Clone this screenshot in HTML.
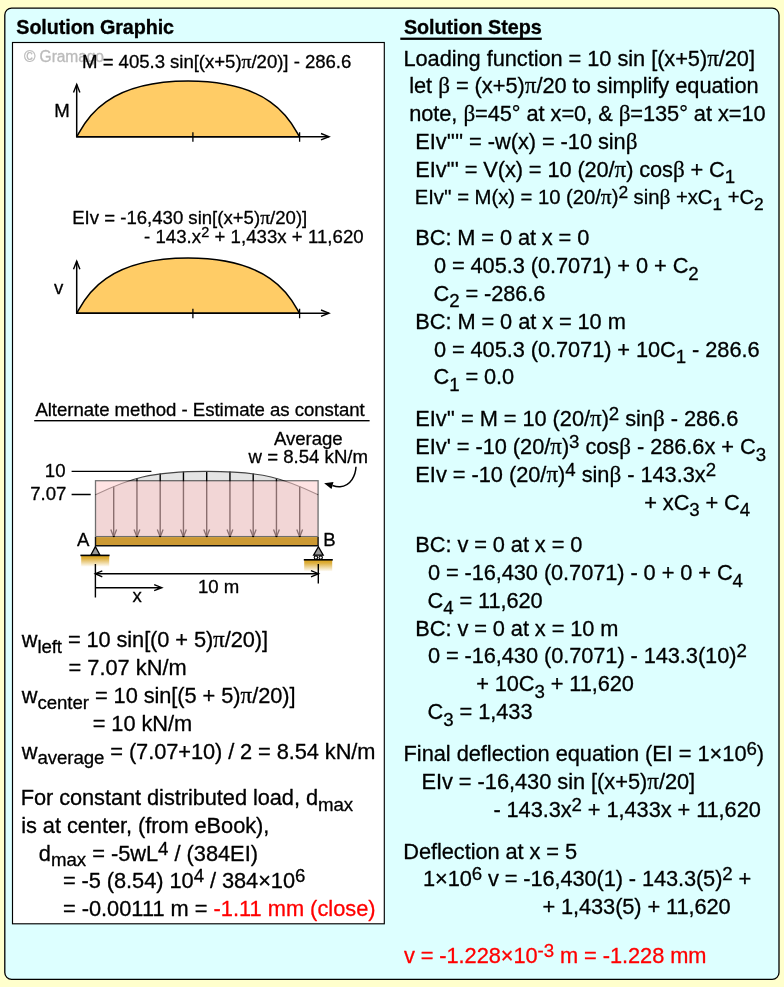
<!DOCTYPE html>
<html><head><meta charset="utf-8"><title>Solution</title>
<style>
html,body{margin:0;padding:0;background:#FFFFCC;}
svg{display:block;font-family:"Liberation Sans",Arial,sans-serif;}
text{white-space:pre;stroke-width:0.3px;stroke-linejoin:round;}
</style></head><body>
<svg width="784" height="987" viewBox="0 0 784 987">
<rect width="784" height="987" fill="#FFFFCC"/>
<rect x="4.8" y="8.15" width="774.2" height="971.2" rx="6.8" ry="6.8" fill="#DDFFFF" stroke="#000" stroke-width="1.3"/>
<rect x="12.5" y="42.5" width="371.8" height="881.3" fill="#fff" stroke="#000" stroke-width="1.15"/>
<rect x="400.3" y="37.6" width="141.5" height="2.3" fill="#000"/>
<rect x="34.2" y="420" width="335.4" height="1.4" fill="#000"/>
<path d="M76.7,136.7 C83.20,126.30 99.60,81.1 188.10,81.1 C276.60,81.1 293.00,126.30 299.5,136.7 Z" fill="#FFCC66" stroke="#000" stroke-width="1.5" stroke-linejoin="round"/><path d="M76.7,84.4 V136.7 H329" fill="none" stroke="#000" stroke-width="1.5"/><path d="M73.5,92.4 L76.7,84.4 L79.9,92.4" fill="none" stroke="#000" stroke-width="1.4"/><path d="M321,133.5 L329,136.7 L321,139.89999999999998" fill="none" stroke="#000" stroke-width="1.4"/><path d="M192.9,132.2 V141.7 M299.6,132.2 V141.7" stroke="#000" stroke-width="1.3"/>
<path d="M76.7,313.2 C83.20,302.87 99.60,258 188.10,258 C276.60,258 293.00,302.87 299.5,313.2 Z" fill="#FFCC66" stroke="#000" stroke-width="1.5" stroke-linejoin="round"/><path d="M76.7,261.2 V313.2 H329" fill="none" stroke="#000" stroke-width="1.5"/><path d="M73.5,269.2 L76.7,261.2 L79.9,269.2" fill="none" stroke="#000" stroke-width="1.4"/><path d="M321,310.0 L329,313.2 L321,316.4" fill="none" stroke="#000" stroke-width="1.4"/><path d="M192.9,308.7 V318.2 M299.6,308.7 V318.2" stroke="#000" stroke-width="1.3"/>
<path d="M71.6,471.4 H151.4 M71.6,494.5 H90.7" stroke="#000" stroke-width="1.4"/>
<path d="M95.5,494.7 C129.70,478.60 149.60,471.4 206.80,471.4 C264.00,471.4 283.90,478.60 318.1,494.7 L318.1,536.6 L95.5,536.6 Z" fill="#E4E4E4" stroke="none"/>
<path d="M113.70,486.22 V537.4" stroke="#000" stroke-width="1.4"/>
<path d="M110.80,529.4 L113.70,536.9 L116.60,529.4" fill="none" stroke="#000" stroke-width="1.3"/>
<path d="M136.95,478.11 V537.4" stroke="#000" stroke-width="1.4"/>
<path d="M134.05,529.4 L136.95,536.9 L139.85,529.4" fill="none" stroke="#000" stroke-width="1.3"/>
<path d="M160.20,473.55 V537.4" stroke="#000" stroke-width="1.4"/>
<path d="M157.30,529.4 L160.20,536.9 L163.10,529.4" fill="none" stroke="#000" stroke-width="1.3"/>
<path d="M183.45,471.59 V537.4" stroke="#000" stroke-width="1.4"/>
<path d="M180.55,529.4 L183.45,536.9 L186.35,529.4" fill="none" stroke="#000" stroke-width="1.3"/>
<path d="M206.70,471.10 V537.4" stroke="#000" stroke-width="1.4"/>
<path d="M203.80,529.4 L206.70,536.9 L209.60,529.4" fill="none" stroke="#000" stroke-width="1.3"/>
<path d="M229.95,471.58 V537.4" stroke="#000" stroke-width="1.4"/>
<path d="M227.05,529.4 L229.95,536.9 L232.85,529.4" fill="none" stroke="#000" stroke-width="1.3"/>
<path d="M253.20,473.53 V537.4" stroke="#000" stroke-width="1.4"/>
<path d="M250.30,529.4 L253.20,536.9 L256.10,529.4" fill="none" stroke="#000" stroke-width="1.3"/>
<path d="M276.45,478.06 V537.4" stroke="#000" stroke-width="1.4"/>
<path d="M273.55,529.4 L276.45,536.9 L279.35,529.4" fill="none" stroke="#000" stroke-width="1.3"/>
<path d="M299.70,486.13 V537.4" stroke="#000" stroke-width="1.4"/>
<path d="M296.80,529.4 L299.70,536.9 L302.60,529.4" fill="none" stroke="#000" stroke-width="1.3"/>
<path d="M95.5,494.7 C129.70,478.60 149.60,471.4 206.80,471.4 C264.00,471.4 283.90,478.60 318.1,494.7" fill="none" stroke="#444" stroke-width="1.1"/>
<rect x="95.5" y="480.7" width="222.60000000000002" height="55.900000000000034" fill="#FFCCCC" stroke="#000" stroke-width="1.3" opacity="0.54"/>
<rect x="95.5" y="537.1" width="222.60000000000002" height="8.7" fill="#CC9933"/>
<path d="M95.5,536.9 V545.8 H318.1 V536.9" fill="none" stroke="#111" stroke-width="1.4"/>
<defs><linearGradient id="g" x1="0" y1="0" x2="0" y2="1"><stop offset="0" stop-color="#D9A21B"/><stop offset="0.25" stop-color="#DDAE3A"/><stop offset="1" stop-color="#fff"/></linearGradient></defs>
<rect x="81.2" y="555.5" width="28" height="11.3" fill="url(#g)"/>
<path d="M95.4,546.6 L91,554.8 H99.8 Z" fill="#999" stroke="#000" stroke-width="1.3" stroke-linejoin="miter"/>
<path d="M80.4,555.4 H109.6" stroke="#000" stroke-width="1.6"/>
<rect x="304.2" y="560" width="28" height="11.6" fill="url(#g)"/>
<path d="M318.4,546.8 L313.6,555.2 H323.2 Z" fill="#999" stroke="#000" stroke-width="1.3"/>
<circle cx="315.9" cy="557.6" r="1.7" fill="#fff" stroke="#000" stroke-width="1.1"/><circle cx="320.7" cy="557.6" r="1.7" fill="#fff" stroke="#000" stroke-width="1.1"/>
<path d="M303.8,559.8 H332.8" stroke="#000" stroke-width="1.6"/>
<path d="M95.4,564 V597.6 M318.3,564 V583.6" stroke="#000" stroke-width="1.4"/>
<path d="M95.4,573.7 H318.3" stroke="#000" stroke-width="1.4"/>
<path d="M102.3,570.8 L95.2,573.7 L102.3,576.8 M311,570.6 L318.6,573.7 L311,576.8" fill="none" stroke="#000" stroke-width="1.3"/>
<path d="M95.4,587.7 H161.6 M154.2,584.7 L161.8,587.7 L154.2,590.7" fill="none" stroke="#000" stroke-width="1.4"/>
<path d="M356,466.7 C355.6,475 351,486 340,486.7 C337,486.9 334.5,486.2 332.5,485.5" fill="none" stroke="#000" stroke-width="1.5"/>
<path d="M324.1,483.2 L333.5,481.9 L331.5,488.9 Z" fill="#000"/>
<text x="16.3" y="33.6" font-size="19.75" font-weight="bold" stroke="#000" letter-spacing="-0.086">Solution Graphic</text>
<text x="403.9" y="33.6" font-size="19.75" font-weight="bold" stroke="#000" letter-spacing="-0.038">Solution Steps</text>
<text x="403.46" y="65.7" font-size="21.8" stroke="#000" letter-spacing="-0.052">Loading function = 10 sin [(x+5)<tspan font-family="'Liberation Serif','DejaVu Serif',serif" font-size="1.06em">π</tspan>/20]</text>
<text x="409.2" y="93.42" font-size="21.8" stroke="#000" letter-spacing="-0.031">let <tspan font-family="'Liberation Serif','DejaVu Serif',serif" font-size="1.06em">β</tspan> = (x+5)<tspan font-family="'Liberation Serif','DejaVu Serif',serif" font-size="1.06em">π</tspan>/20 to simplify equation</text>
<text x="409.2" y="121.24" font-size="21.8" stroke="#000" letter-spacing="-0.06">note, <tspan font-family="'Liberation Serif','DejaVu Serif',serif" font-size="1.06em">β</tspan>=45° at x=0, &amp; <tspan font-family="'Liberation Serif','DejaVu Serif',serif" font-size="1.06em">β</tspan>=135° at x=10</text>
<text x="415.36" y="148.86" font-size="21.8" stroke="#000" letter-spacing="-0.055">EIv'''' = -w(x) = -10 sin<tspan font-family="'Liberation Serif','DejaVu Serif',serif" font-size="1.06em">β</tspan></text>
<text x="415.36" y="176.69" font-size="21.8" stroke="#000" letter-spacing="-0.098">EIv''' = V(x) = 10 (20/<tspan font-family="'Liberation Serif','DejaVu Serif',serif" font-size="1.06em">π</tspan>) cos<tspan font-family="'Liberation Serif','DejaVu Serif',serif" font-size="1.06em">β</tspan> + C<tspan dy="6.54" font-size="18.66">1</tspan></text>
<text x="414.7" y="203.5" font-size="20.3" stroke="#000" letter-spacing="-0.037">EIv'' = M(x) = 10 (20/<tspan font-family="'Liberation Serif','DejaVu Serif',serif" font-size="1.06em">π</tspan>)<tspan dy="-5.48" font-size="17.38">2</tspan><tspan dy="5.48"> sin<tspan font-family="'Liberation Serif','DejaVu Serif',serif" font-size="1.06em">β</tspan> +xC</tspan><tspan dy="6.09" font-size="17.38">1</tspan><tspan dy="-6.09"> +C</tspan><tspan dy="6.09" font-size="17.38">2</tspan></text>
<text x="415.36" y="245.34" font-size="21.8" stroke="#000" letter-spacing="-0.1">BC: M = 0 at x = 0</text>
<text x="433.88" y="273.06" font-size="21.8" stroke="#000" letter-spacing="-0.072">0 = 405.3 (0.7071) + 0 + C<tspan dy="6.54" font-size="18.66">2</tspan></text>
<text x="433.5" y="300.88" font-size="21.8" stroke="#000" letter-spacing="-0.1">C<tspan dy="6.54" font-size="18.66">2</tspan><tspan dy="-6.54"> = -286.6</tspan></text>
<text x="415.36" y="328.7" font-size="21.8" stroke="#000" letter-spacing="-0.078">BC: M = 0 at x = 10 m</text>
<text x="433.88" y="356.53" font-size="21.8" stroke="#000" letter-spacing="-0.069">0 = 405.3 (0.7071) + 10C<tspan dy="6.54" font-size="18.66">1</tspan><tspan dy="-6.54"> - 286.6</tspan></text>
<text x="433.5" y="384.25" font-size="21.8" stroke="#000" letter-spacing="-0.1">C<tspan dy="6.54" font-size="18.66">1</tspan><tspan dy="-6.54"> = 0.0</tspan></text>
<text x="415.36" y="426.38" font-size="21.8" stroke="#000" letter-spacing="-0.046">EIv'' = M = 10 (20/<tspan font-family="'Liberation Serif','DejaVu Serif',serif" font-size="1.06em">π</tspan>)<tspan dy="-5.89" font-size="18.66">2</tspan><tspan dy="5.89"> sin<tspan font-family="'Liberation Serif','DejaVu Serif',serif" font-size="1.06em">β</tspan> - 286.6</tspan></text>
<text x="415.36" y="454.2" font-size="21.8" stroke="#000" letter-spacing="-0.049">EIv' = -10 (20/<tspan font-family="'Liberation Serif','DejaVu Serif',serif" font-size="1.06em">π</tspan>)<tspan dy="-5.89" font-size="18.66">3</tspan><tspan dy="5.89"> cos<tspan font-family="'Liberation Serif','DejaVu Serif',serif" font-size="1.06em">β</tspan> - 286.6x + C</tspan><tspan dy="6.54" font-size="18.66">3</tspan></text>
<text x="415.36" y="481.92" font-size="21.8" stroke="#000" letter-spacing="-0.031">EIv = -10 (20/<tspan font-family="'Liberation Serif','DejaVu Serif',serif" font-size="1.06em">π</tspan>)<tspan dy="-5.89" font-size="18.66">4</tspan><tspan dy="5.89"> sin<tspan font-family="'Liberation Serif','DejaVu Serif',serif" font-size="1.06em">β</tspan> - 143.3x</tspan><tspan dy="-5.89" font-size="18.66">2</tspan></text>
<text x="644.28" y="509.75" font-size="21.8" stroke="#000" letter-spacing="-0.1">+ xC<tspan dy="6.54" font-size="18.66">3</tspan><tspan dy="-6.54"> + C</tspan><tspan dy="6.54" font-size="18.66">4</tspan></text>
<text x="415.36" y="552.18" font-size="21.8" stroke="#000" letter-spacing="-0.08">BC: v = 0 at x = 0</text>
<text x="427.88" y="580.0" font-size="21.8" stroke="#000" letter-spacing="-0.077">0 = -16,430 (0.7071) - 0 + 0 + C<tspan dy="6.54" font-size="18.66">4</tspan></text>
<text x="427.5" y="607.82" font-size="21.8" stroke="#000" letter-spacing="-0.095">C<tspan dy="6.54" font-size="18.66">4</tspan><tspan dy="-6.54"> = 11,620</tspan></text>
<text x="415.36" y="635.64" font-size="21.8" stroke="#000" letter-spacing="-0.081">BC: v = 0 at x = 10 m</text>
<text x="427.88" y="663.36" font-size="21.8" stroke="#000" letter-spacing="-0.072">0 = -16,430 (0.7071) - 143.3(10)<tspan dy="-5.89" font-size="18.66">2</tspan></text>
<text x="476.18" y="691.09" font-size="21.8" stroke="#000" letter-spacing="-0.1">+ 10C<tspan dy="6.54" font-size="18.66">3</tspan><tspan dy="-6.54"> + 11,620</tspan></text>
<text x="427.5" y="719.21" font-size="21.8" stroke="#000" letter-spacing="-0.056">C<tspan dy="6.54" font-size="18.66">3</tspan><tspan dy="-6.54"> = 1,433</tspan></text>
<text x="403.56" y="761.14" font-size="21.8" stroke="#000" letter-spacing="-0.034">Final deflection equation (EI = 1×10<tspan dy="-5.89" font-size="18.66">6</tspan><tspan dy="5.89">)</tspan></text>
<text x="421.46" y="788.76" font-size="21.8" stroke="#000" letter-spacing="-0.033">EIv = -16,430 sin [(x+5)<tspan font-family="'Liberation Serif','DejaVu Serif',serif" font-size="1.06em">π</tspan>/20]</text>
<text x="493.38" y="817.08" font-size="21.8" stroke="#000" letter-spacing="-0.072">- 143.3x<tspan dy="-5.89" font-size="18.66">2</tspan><tspan dy="5.89"> + 1,433x + 11,620</tspan></text>
<text x="403.36" y="858.62" font-size="21.8" stroke="#000" letter-spacing="-0.075">Deflection at x = 5</text>
<text x="423.0" y="886.24" font-size="21.8" stroke="#000" letter-spacing="-0.1">1×10<tspan dy="-5.89" font-size="18.66">6</tspan><tspan dy="5.89"> v = -16,430(1) - 143.3(5)</tspan><tspan dy="-5.89" font-size="18.66">2</tspan><tspan dy="5.89"> +</tspan></text>
<text x="542.48" y="914.36" font-size="21.8" stroke="#000" letter-spacing="-0.095">+ 1,433(5) + 11,620</text>
<text x="403.9" y="962.9" font-size="21.8" fill="#FF0000" stroke="#FF0000" letter-spacing="-0.065">v = -1.228×10<tspan dy="-5.89" font-size="18.66">-3</tspan><tspan dy="5.89"> m = -1.228 mm</tspan></text>
<text x="21.75" y="647.1" font-size="21.8" stroke="#000" letter-spacing="-0.089">w<tspan dy="5.7" font-size="18.66">left</tspan><tspan dy="-5.7"> = 10 sin[(0 + 5)<tspan font-family="'Liberation Serif','DejaVu Serif',serif" font-size="1.06em">π</tspan>/20)]</tspan></text>
<text x="68.48" y="674.9" font-size="21.8" stroke="#000" letter-spacing="0.002">= 7.07 kN/m</text>
<text x="21.75" y="702.8" font-size="21.8" stroke="#000" letter-spacing="-0.062">w<tspan dy="5.7" font-size="18.66">center</tspan><tspan dy="-5.7"> = 10 sin[(5 + 5)<tspan font-family="'Liberation Serif','DejaVu Serif',serif" font-size="1.06em">π</tspan>/20)]</tspan></text>
<text x="92.68" y="730.6" font-size="21.8" stroke="#000" letter-spacing="-0.048">= 10 kN/m</text>
<text x="21.75" y="758.5" font-size="21.8" stroke="#000" letter-spacing="-0.076">w<tspan dy="5.7" font-size="18.66">average</tspan><tspan dy="-5.7"> = (7.07+10) / 2 = 8.54 kN/m</tspan></text>
<text x="20.66" y="805.3" font-size="21.8" stroke="#000" letter-spacing="-0.062">For constant distributed load, d<tspan dy="5.7" font-size="18.66">max</tspan></text>
<text x="21.2" y="833.0" font-size="21.8" stroke="#000" letter-spacing="-0.054">is at center, (from eBook),</text>
<text x="38.8" y="860.7" font-size="21.8" stroke="#000" letter-spacing="-0.018">d<tspan dy="5.7" font-size="18.66">max</tspan><tspan dy="-5.7"> = -5wL</tspan><tspan dy="-5.89" font-size="18.66">4</tspan><tspan dy="5.89"> / (384EI)</tspan></text>
<text x="62.88" y="888.2" font-size="21.8" stroke="#000" letter-spacing="-0.052">= -5 (8.54) 10<tspan dy="-5.89" font-size="18.66">4</tspan><tspan dy="5.89"> / 384×10</tspan><tspan dy="-5.89" font-size="18.66">6</tspan></text>
<text x="62.88" y="916.0" font-size="21.8" stroke="#000" letter-spacing="0.004">= -0.00111 m = <tspan fill="#FF0000" stroke="#FF0000">-1.11 mm (close)</tspan></text>
<text x="24.0" y="61.5" font-size="15.6" fill="#BBBBBB" stroke="#BBBBBB" letter-spacing="-0.1">© Gramago</text>
<text x="82.1" y="68.0" font-size="18.6" stroke="#000" letter-spacing="-0.038">M = 405.3 sin[(x+5)<tspan font-family="'Liberation Serif','DejaVu Serif',serif" font-size="1.06em">π</tspan>/20)] - 286.6</text>
<text x="72.2" y="224.2" font-size="18.6" stroke="#000" letter-spacing="-0.007">EIv = -16,430 sin[(x+5)<tspan font-family="'Liberation Serif','DejaVu Serif',serif" font-size="1.06em">π</tspan>/20)]</text>
<text x="144.02" y="242.7" font-size="18.6" stroke="#000" letter-spacing="0.039">- 143.x<tspan dy="-6.1" font-size="14.5">2</tspan><tspan dy="6.1"> + 1,433x + 11,620</tspan></text>
<text x="54.2" y="117.4" font-size="18.6" stroke="#000">M</text>
<text x="54.0" y="293.9" font-size="18.6" stroke="#000">v</text>
<text x="35.41" y="416.4" font-size="18.6" stroke="#000" letter-spacing="-0.037">Alternate method - Estimate as constant</text>
<text x="274.01" y="445.1" font-size="18.6" stroke="#000" letter-spacing="-0.034">Average</text>
<text x="248.55" y="463.4" font-size="18.6" stroke="#000" letter-spacing="0.006">w = 8.54 kN/m</text>
<text x="44.8" y="476.7" font-size="18.6" stroke="#000">10</text>
<text x="30.23" y="500" font-size="18.6" stroke="#000">7.07</text>
<text x="77.01" y="546" font-size="18.6" stroke="#000">A</text>
<text x="323.2" y="546" font-size="18.6" stroke="#000">B</text>
<text x="197.9" y="593" font-size="18.6" stroke="#000">10 m</text>
<text x="132.5" y="602" font-size="18.6" stroke="#000">x</text>
</svg>
</body></html>
